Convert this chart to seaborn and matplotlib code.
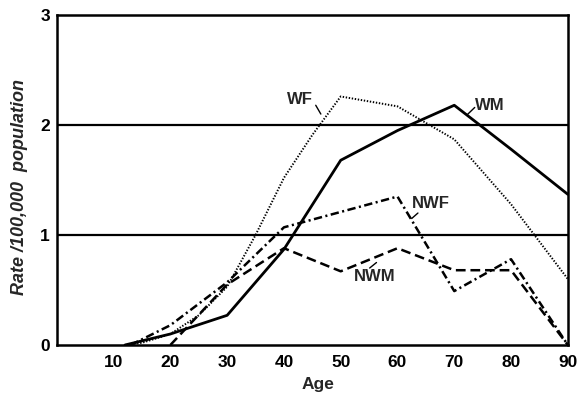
import matplotlib
matplotlib.use("Agg")
import matplotlib.pyplot as plt
import seaborn as sns
import pandas as pd

sns.set_theme(style="white")
plt.rcParams['font.family'] = ['Liberation Sans', 'DejaVu Sans']
plt.rcParams['lines.scale_dashes'] = False

# Data
wm_age = [12, 20, 30, 40, 50, 60, 70, 80, 90]
wm_rate = [0.0, 0.10, 0.27, 0.87, 1.68, 1.95, 2.18, 1.78, 1.37]

wf_age = [12, 15, 20, 25, 30, 35, 40, 45, 50, 60, 70, 80, 90]
wf_rate = [0.0, 0.02, 0.10, 0.27, 0.53, 1.0, 1.52, 1.91, 2.26, 2.17, 1.87, 1.28, 0.60]

nwf_age = [13, 20, 30, 40, 50, 60, 70, 80, 90]
nwf_rate = [0.0, 0.18, 0.57, 1.07, 1.21, 1.35, 0.49, 0.78, 0.0]

nwm_age = [20, 30, 40, 50, 60, 70, 80, 90]
nwm_rate = [0.0, 0.55, 0.88, 0.67, 0.88, 0.68, 0.68, 0.0]

labels = ["WM", "WF", "NWF", "NWM"]
xticks = [10, 20, 30, 40, 50, 60, 70, 80, 90]
yticks = [0, 1, 2, 3]

fig = plt.figure(figsize=(5.8, 3.97), dpi=100)
ax = fig.add_axes([0.098, 0.131, 0.881, 0.831])

sns.lineplot(x=wm_age, y=wm_rate, ax=ax, color="black", lw=2.0, linestyle="-")
l_wf = sns.lineplot(x=wf_age, y=wf_rate, ax=ax, color="black", lw=1.4).lines[-1]
l_wf.set_linestyle((0, (1.0, 1.2)))
l_nwf = sns.lineplot(x=nwf_age, y=nwf_rate, ax=ax, color="black", lw=1.8).lines[-1]
l_nwf.set_linestyle((0, (6, 2.5, 1.5, 2.5)))
l_nwm = sns.lineplot(x=nwm_age, y=nwm_rate, ax=ax, color="black", lw=1.8).lines[-1]
l_nwm.set_linestyle((0, (7, 3.5)))

for yv in [1, 2]:
    ax.axhline(yv, color="black", lw=1.6, zorder=1)

ax.set_xlim(0, 90)
ax.set_ylim(0, 3)
ax.set_xticks(xticks)
ax.set_xticks(list(range(5, 90, 5)), minor=True)
ax.set_yticks(yticks)
ax.tick_params(axis="x", which="both", direction="in", length=6, width=1.5,
               colors="black", labelsize=12.5, pad=7)
ax.tick_params(axis="y", which="both", direction="out", length=3, width=1.5,
               colors="black", labelsize=12.5, pad=2)
for lab in ax.get_xticklabels() + ax.get_yticklabels():
    lab.set_fontweight("bold")

for s in ax.spines.values():
    s.set_visible(True)
    s.set_color("black")
    s.set_linewidth(1.8)

ax.set_xlabel("Age", fontsize=12.5, fontweight="bold")
ax.xaxis.set_label_coords(0.511, -0.098)
ax.set_ylabel("Rate /100,000  population", fontsize=13, fontweight="bold",
              style="italic")
ax.yaxis.set_label_coords(-0.057, 0.48)

txt_kw = dict(fontsize=12, fontweight="bold", ha="center", va="center")
ax.text(42.8, 2.23, labels[1], **txt_kw)
ax.text(76.2, 2.18, labels[0], **txt_kw)
ax.text(65.8, 1.29, labels[2], **txt_kw)
ax.text(56.0, 0.62, labels[3], **txt_kw)

lk = dict(arrowprops=dict(arrowstyle="-", color="black", lw=1.0, shrinkA=0, shrinkB=0))
ax.annotate("", xy=(46.5, 2.10), xytext=(45.6, 2.18), **lk)
ax.annotate("", xy=(72.2, 2.09), xytext=(73.6, 2.16), **lk)
ax.annotate("", xy=(62.5, 1.15), xytext=(63.6, 1.20), **lk)
ax.annotate("", xy=(56.3, 0.75), xytext=(55.1, 0.70), **lk)

fig.savefig("out.png", dpi=100)
